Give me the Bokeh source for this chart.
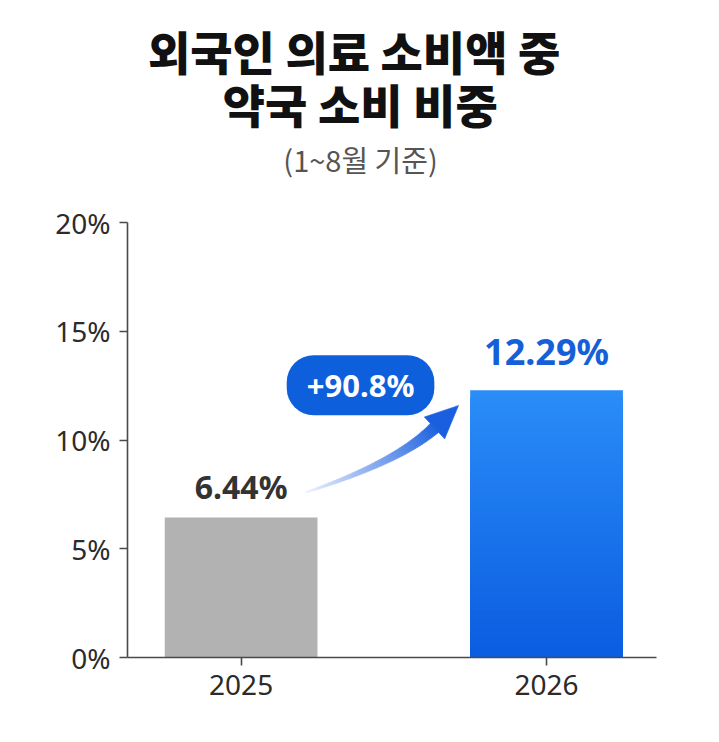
import numpy as np
from bokeh.plotting import figure
from bokeh.models import Label, ColumnDataSource, FixedTicker, PrintfTickFormatter
from bokeh.embed import file_html
from bokeh.resources import INLINE

# data
years = ["2025", "2026"]
shares = [6.44, 12.29]
share_labels = ["6.44%", "12.29%"]
change_label = "+90.8%"
y_ticks = [0, 5, 10, 15, 20]
title_lines = ["외국인 의료 소비액 중", "약국 소비 비중"]
subtitle = "(1~8월 기준)"

# layout: frame runs to the top edge, y axis line is bounded to 0..20
W, H = 711, 734
LEFT, RIGHT, TOP, BOTTOM = 127, W - 656, 0, H - 657
X0, X1 = -0.372, 1.36
SY = 435 / 20                     # px per y unit
Y0, Y1 = 0, 657 / SY
SX = (W - LEFT - RIGHT) / (X1 - X0)   # px per x unit

KR = "Noto Sans CJK KR"
KR_HEAVY = "Noto Sans CJK KR Black, Noto Sans CJK KR"
LAT = "Noto Sans"
GRAY = "#b2b2b2"
BLUE_TOP = "#2a8cf7"
BLUE_BOT = "#0a5ce0"
BADGE = "#0d5fdc"


def mix(c1, c2, t):
    a = [int(c1[i:i + 2], 16) for i in (1, 3, 5)]
    b = [int(c2[i:i + 2], 16) for i in (1, 3, 5)]
    return "#" + "".join("%02x" % round(a[k] + (b[k] - a[k]) * t) for k in range(3))


p = figure(width=W, height=H, x_range=(X0, X1), y_range=(Y0, Y1),
           output_backend="svg", toolbar_location=None,
           min_border_left=LEFT, min_border_right=RIGHT,
           min_border_top=TOP, min_border_bottom=BOTTOM)
p.outline_line_color = None
p.grid.grid_line_color = None
p.background_fill_color = "white"
p.border_fill_color = "white"

xs = list(range(len(years)))

# axes
for ax in (p.xaxis, p.yaxis):
    ax.axis_line_color = "#4a4a4a"
    ax.axis_line_width = 1.6
    ax.major_tick_line_color = "#4a4a4a"
    ax.major_tick_line_width = 1.6
    ax.major_tick_in = 0
    ax.major_tick_out = 8
    ax.minor_tick_line_color = None
    ax.major_label_text_font = LAT
    ax.major_label_text_font_size = "28px"
    ax.major_label_text_color = "#2b2b2b"

p.yaxis.ticker = FixedTicker(ticks=y_ticks)
p.yaxis.formatter = PrintfTickFormatter(format="%d%%")
p.yaxis.bounds = (y_ticks[0], y_ticks[-1])
p.yaxis.major_label_standoff = 9
p.xaxis.ticker = FixedTicker(ticks=xs)
p.xaxis.major_label_overrides = {x: y for x, y in zip(xs, years)}
p.xaxis.major_label_standoff = 9

# bars
p.vbar(x=xs[0], top=shares[0], width=0.5, fill_color=GRAY, line_color=None)
n = 40
fr = [(n - k) / n for k in range(n)]
grad = ColumnDataSource(dict(
    x=[xs[1]] * n,
    top=[shares[1] * f for f in fr],
    color=[mix(BLUE_BOT, BLUE_TOP, f) for f in fr],
))
p.vbar(x="x", top="top", width=0.5, fill_color="color", line_color=None, source=grad)

# value labels
p.add_layout(Label(x=xs[0], y=shares[0] + 1.4, text=share_labels[0],
                   text_align="center", text_baseline="middle",
                   text_font=LAT, text_font_style="bold",
                   text_font_size="32px", text_color="#333333"))
p.add_layout(Label(x=xs[1], y=shares[1] + 1.8, text=share_labels[1],
                   text_align="center", text_baseline="middle",
                   text_font=LAT, text_font_style="bold",
                   text_font_size="36px", text_color="#1560d8"))

# curved arrow (pixel space, y up)
start = np.array([(xs[0] + 0.211) * SX, 7.59 * SY])
tip = np.array([(xs[0] + 0.712) * SX, 11.59 * SY])
ang = np.radians(43)
d = np.array([np.cos(ang), np.sin(ang)])
base = tip - 33 * d
ctrl = base - 50 * d

m = 60
xs_list, ys_list, cols = [], [], []
for i in range(m):
    pts = []
    for t in (i / m, (i + 1) / m):
        c = (1 - t) ** 2 * start + 2 * (1 - t) * t * ctrl + t ** 2 * base
        tg = 2 * (1 - t) * (ctrl - start) + 2 * t * (base - ctrl)
        tg = tg / np.linalg.norm(tg)
        nrm = np.array([-tg[1], tg[0]])
        w = 1.5 + 10.5 * t
        pts.append((c + nrm * w / 2, c - nrm * w / 2))
    quad = [pts[0][0], pts[1][0], pts[1][1], pts[0][1]]
    xs_list.append([q[0] / SX for q in quad])
    ys_list.append([q[1] / SY for q in quad])
    cols.append(mix("#f4f7fe", "#1a5fe0", ((i + 0.5) / m) ** 0.8))
p.patches(xs_list, ys_list, fill_color=cols, line_color=cols, line_width=0.6)

nrm = np.array([-d[1], d[0]])
head = [tip, base + nrm * 15, base - nrm * 15]
p.patch([q[0] / SX for q in head], [q[1] / SY for q in head],
        fill_color="#1a5fe0", line_color="#1a5fe0", line_width=0.5)

# change badge
p.add_layout(Label(x=0.391, y=12.52, text=change_label,
                   text_align="center", text_baseline="middle",
                   text_font=LAT, text_font_style="bold",
                   text_font_size="31px", text_color="white",
                   background_fill_color=BADGE, border_radius=27,
                   padding=(20, 9)))

# titles
p.add_layout(Label(x=0.37, y=27.95, text=title_lines[0],
                   text_align="center", text_baseline="middle",
                   text_font=KR_HEAVY, text_font_style="bold",
                   text_font_size="46px", text_color="#111111"))
p.add_layout(Label(x=0.39, y=25.5, text=title_lines[1],
                   text_align="center", text_baseline="middle",
                   text_font=KR_HEAVY, text_font_style="bold",
                   text_font_size="46px", text_color="#111111"))
p.add_layout(Label(x=0.391, y=22.9, text=subtitle,
                   text_align="center", text_baseline="middle",
                   text_font=KR, text_font_size="29px", text_color="#555555"))

open("out.html", "w").write(file_html(p, INLINE))
